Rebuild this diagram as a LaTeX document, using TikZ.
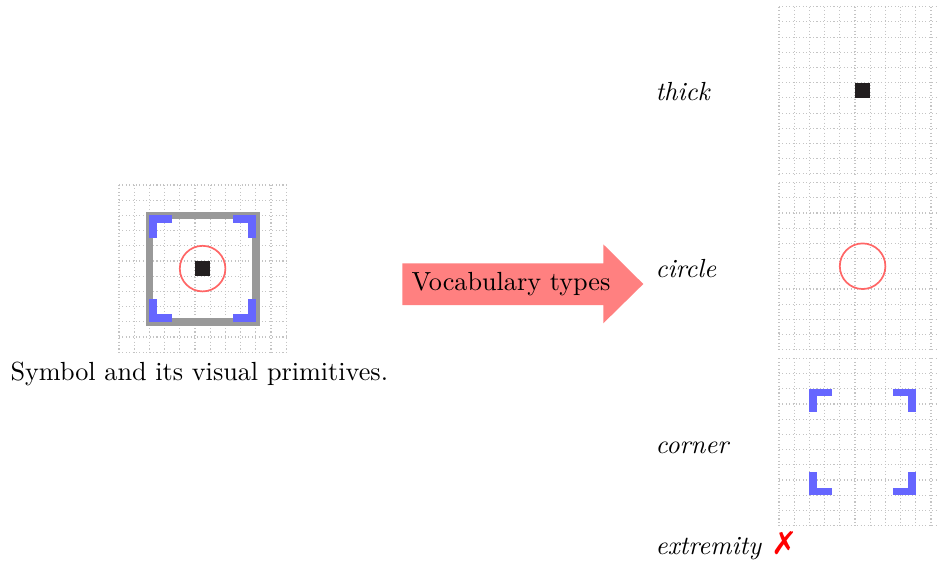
\documentclass[tikz,border=0pt]{standalone}
\usepackage{fontspec}
\newfontfamily\dejavu{DejaVu Sans}
\definecolor{symgray}{HTML}{999999}
\definecolor{symblue}{HTML}{6666FF}
\definecolor{symred}{HTML}{FF6666}
\definecolor{symblack}{HTML}{231F20}
\definecolor{arrowpink}{HTML}{FF8080}
\definecolor{gridgray}{HTML}{C4C4C4}
\tikzset{
  gridline/.style={gridgray, line width=0.4pt, dash pattern=on 0.4pt off 0.9pt},
  cornerline/.style={symblue, line width=2.9pt, line cap=butt, line join=miter},
  squareline/.style={symgray, line width=2.9pt, line join=miter},
  circleline/.style={symred, line width=0.65pt},
  lbl/.style={anchor=base west, inner sep=0pt, font=\itshape},
  plain/.style={anchor=base west, inner sep=0pt}
}
\newcommand\cellgrid[2]{%
  \foreach \i in {0,...,11} {
    \draw[gridline] ({#1+\i*15.2},#2) -- ({#1+\i*15.2},{#2+167.2});
    \draw[gridline] (#1,{#2+\i*15.2}) -- ({#1+167.2},{#2+\i*15.2});
  }}
\newcommand\symcorners[2]{%
  \draw[cornerline] ({#1+22.8},{#2+3.8}) -- ({#1+3.8},{#2+3.8}) -- ({#1+3.8},{#2+22.8});
  \draw[cornerline] ({#1+83.6},{#2+3.8}) -- ({#1+102.6},{#2+3.8}) -- ({#1+102.6},{#2+22.8});
  \draw[cornerline] ({#1+3.8},{#2+83.6}) -- ({#1+3.8},{#2+102.6}) -- ({#1+22.8},{#2+102.6});
  \draw[cornerline] ({#1+102.6},{#2+83.6}) -- ({#1+102.6},{#2+102.6}) -- ({#1+83.6},{#2+102.6});
}
\begin{document}
\begin{tikzpicture}[x=0.3817pt, y=-0.3817pt]
\useasboundingbox (0,0) rectangle (939,569);
% left symbol
\cellgrid{119}{185}
\draw[squareline] (149.4,215.4) rectangle (255.8,321.8);
\symcorners{149.4}{215.4}
\draw[circleline] (202.6,268.6) circle[radius=22.8];
\fill[symblack] (195,261) rectangle (210.2,276.2);
\node[plain] (caption) at (10,380.7) {Symbol and its visual primitives.};
% arrow
\fill[arrowpink] (402.3,263.3) -- (603.3,263.3) -- (603.3,244.3) -- (643.3,284)
  -- (603.3,323.3) -- (603.3,305) -- (402.3,305) -- cycle;
\node[plain] (vocab) at (411,290) {Vocabulary types};
% right panels
\cellgrid{779}{6.7}
\fill[symblack] (855,82.5) rectangle (870.2,97.7);
\cellgrid{779}{182.6}
\draw[circleline] (862.6,266.2) circle[radius=22.8];
\cellgrid{779}{358.4}
\symcorners{809.4}{388.8}
% labels
\node[lbl] (lthick) at (655,100.7) {thick};
\node[lbl] (lcircle) at (655,277.7) {circle};
\node[lbl] (lcorner) at (655,453) {corner};
\node[lbl] (lext) at (655,554.5) {extremity};
\node[plain, text=red, font=\dejavu\bfseries\fontsize{12}{14}\selectfont] (xmark) at (771,554.5) {✗};
\end{tikzpicture}
\end{document}
